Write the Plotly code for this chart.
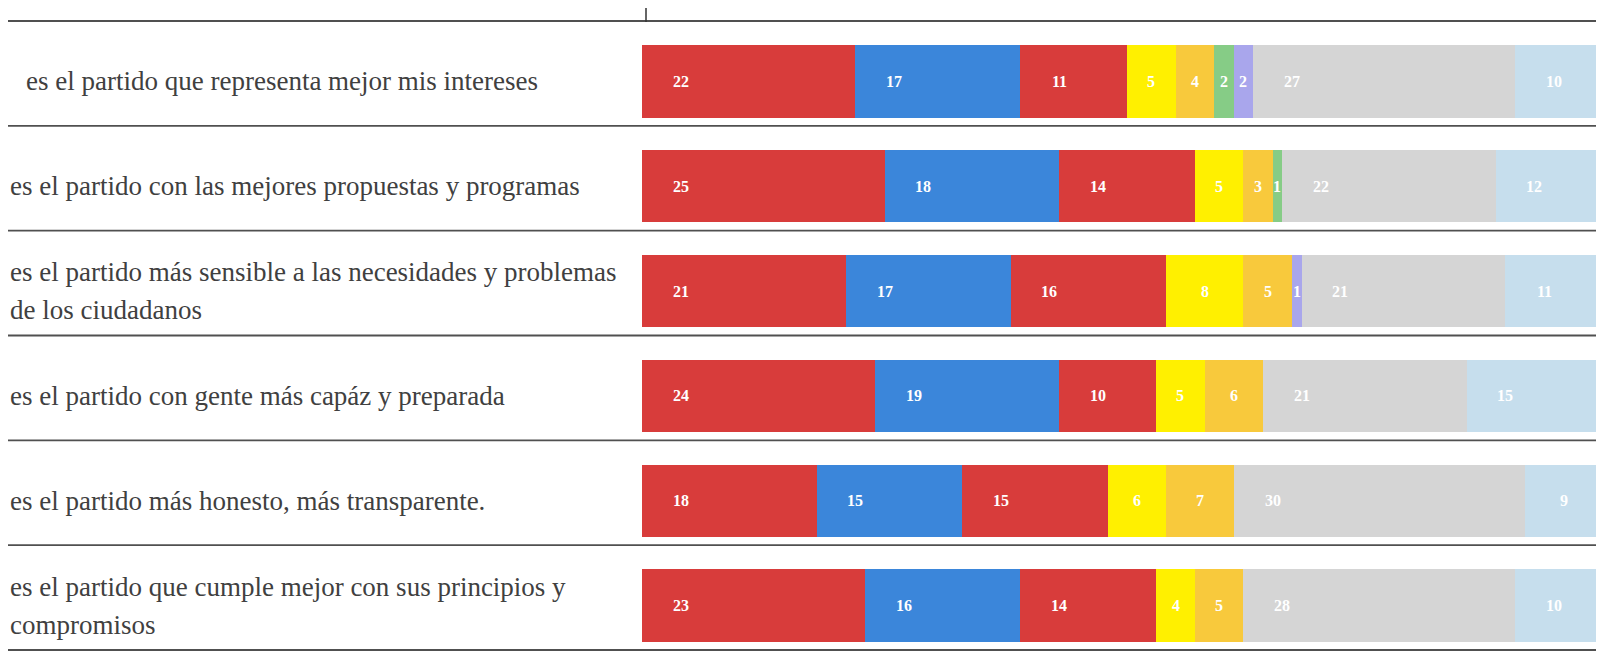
import plotly.graph_objects as go

categories = [
    "es el partido que representa mejor mis intereses",
    "es el partido con las mejores propuestas y programas",
    "es el partido más sensible a las necesidades y problemas<br>de los ciudadanos",
    "es el partido con gente más capáz y preparada",
    "es el partido más honesto, más transparente.",
    "es el partido que cumple mejor con sus principios y<br>compromisos",
]

series_names = ["Rojo A", "Azul", "Rojo B", "Amarillo", "Naranja", "Verde", "Morado", "Gris", "Celeste"]
red_a     = [22, 25, 21, 24, 18, 23]
blue      = [17, 18, 17, 19, 15, 16]
red_b     = [11, 14, 16, 10, 15, 14]
yellow    = [5, 5, 8, 5, 6, 4]
orange    = [4, 3, 5, 6, 7, 5]
green     = [2, 1, 0, 0, 0, 0]
purple    = [2, 0, 1, 0, 0, 0]
gray      = [27, 22, 21, 21, 30, 28]
lightblue = [10, 12, 11, 15, 9, 10]

series_values = [red_a, blue, red_b, yellow, orange, green, purple, gray, lightblue]
colors = ["#d83c3b", "#3b86da", "#d83c3b", "#fff000", "#f8c93c", "#86cc86",
          "#a9a6ec", "#d5d5d5", "#c6deed"]

W, H = 1604, 665
x0_px = 634
top_px, bot_px = 21, 650

fig = go.Figure()
ypos = list(range(len(categories)))
for name, vals, col in zip(series_names, series_values, colors):
    fig.add_trace(go.Bar(
        y=ypos, x=vals, name=name, orientation="h",
        marker=dict(color=col, line=dict(width=0)),
        width=0.69, hoverinfo="x+name",
    ))

# value labels
annotations = []
for i in range(len(categories)):
    base = 0
    for vals in series_values:
        v = vals[i]
        if v > 0:
            annotations.append(dict(
                x=base + min(v / 2, 4.0), y=i, xref="x", yref="y",
                text="<b>%d</b>" % v, showarrow=False,
                font=dict(family="Liberation Serif", size=16, color="white"),
                xanchor="center", yanchor="middle",
            ))
        base += v

# category labels (left text), one annotation per line
row_h = (bot_px - top_px) / len(categories)
for i, cat in enumerate(categories):
    lines = cat.split("<br>")
    n = len(lines)
    for j, ln in enumerate(lines):
        dy = (j - (n - 1) / 2) * 38
        yc = top_px + row_h * (i + 0.5) + dy
        annotations.append(dict(
            x=(16 if i == 0 else 0) / W, y=1 - yc / H, xref="paper", yref="paper",
            text=ln, showarrow=False, xanchor="left", yanchor="middle",
            font=dict(family="Liberation Serif", size=27, color="#404040"),
        ))

# separator lines
shapes = []
for k in range(len(categories) + 1):
    yp = top_px + row_h * k - 8
    shapes.append(dict(type="line", xref="paper", yref="paper",
                       x0=0, x1=1, y0=1 - yp / H, y1=1 - yp / H,
                       line=dict(color="#505050", width=1.8)))
shapes.append(dict(type="line", xref="paper", yref="paper",
                   x0=638 / W, x1=638 / W, y0=1, y1=1 - 14 / H,
                   line=dict(color="#333333", width=1.5)))

fig.update_layout(
    width=W, height=H, barmode="stack", showlegend=False,
    margin=dict(l=0, r=0, t=0, b=0),
    paper_bgcolor="white", plot_bgcolor="white",
    xaxis=dict(domain=[x0_px / W, 1], range=[0, 100], visible=False, fixedrange=True),
    yaxis=dict(domain=[1 - bot_px / H, 1 - top_px / H], range=[len(categories) - 0.5, -0.5],
               visible=False, fixedrange=True),
    annotations=annotations, shapes=shapes,
)

fig.write_html("out.html")
